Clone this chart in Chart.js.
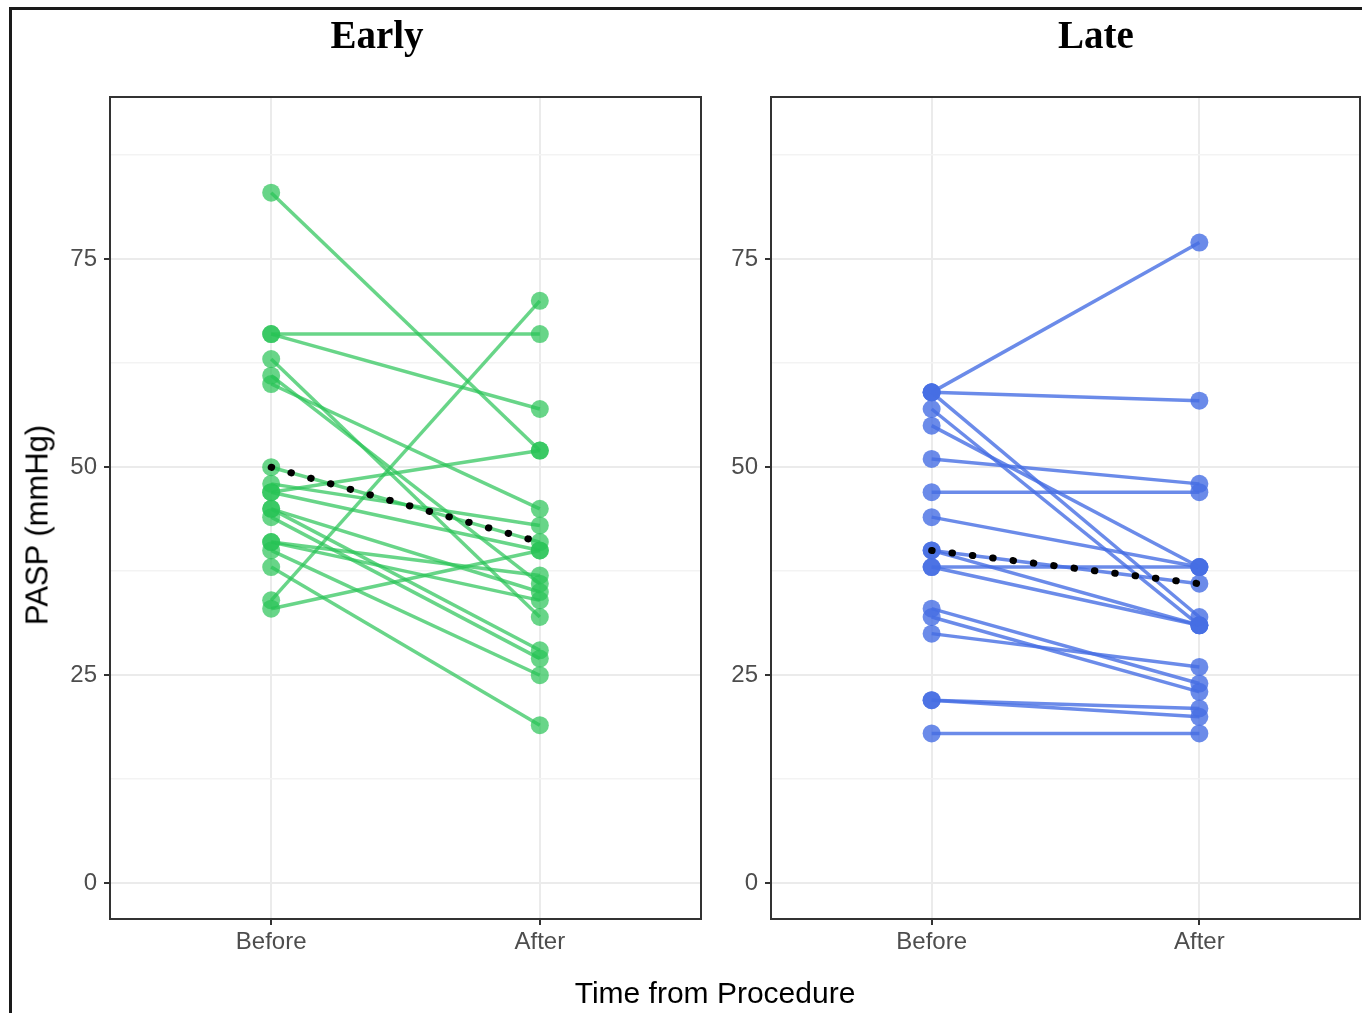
<!DOCTYPE html>
<html>
<head>
<meta charset="utf-8">
<title>PASP before and after procedure</title>
<script src="https://cdn.jsdelivr.net/npm/chart.js@4.4.1/dist/chart.umd.min.js"></script>
<style>
  html, body {
    margin: 0;
    width: 1362px;
    height: 1013px;
    overflow: hidden;
    background: #fff;
  }
  body {
    position: relative;
    font-family: 'Liberation Sans', Arial, sans-serif;
  }
  .frame {
    position: absolute;
    left: 9px;
    top: 7px;
    width: 1350px;
    height: 1003px;
    border-left: 3px solid #1a1a1a;
    border-top: 3px solid #1a1a1a;
  }
  .panel { position: absolute; top: 0; height: 1013px; }
  .title {
    position: absolute;
    top: 15px;
    font-family: 'Liberation Serif', 'Times New Roman', serif;
    font-weight: bold;
    font-size: 39px;
    line-height: 39px;
    transform: translateX(-50%);
    white-space: nowrap;
  }
  .ylab {
    position: absolute;
    left: 37px;
    top: 525px;
    font-size: 31px;
    line-height: 31px;
    white-space: nowrap;
    transform: translate(-50%, -50%) rotate(-90deg);
  }
  .xlab {
    position: absolute;
    left: 715px;
    top: 993px;
    font-size: 30px;
    line-height: 30px;
    white-space: nowrap;
    transform: translate(-50%, -50%);
  }
</style>
</head>
<body>
<div class="frame"></div>
<!-- line charts keep ~9px of room for the point radius, so the right canvas runs past the page edge -->
<div class="panel" style="left:0;width:720px"><canvas id="early-chart"></canvas></div>
<div class="panel" style="left:661px;width:708px"><canvas id="late-chart"></canvas></div>
<div class="title" style="left:377px">Early</div>
<div class="title" style="left:1096px">Late</div>
<div class="ylab">PASP (mmHg)</div>
<div class="xlab">Time from Procedure</div>

<script>
const categories = ['Before', 'After'];

// paired values, one patient per index
const earlyBefore = [83, 66, 66, 63, 61, 60, 50, 48, 47, 47, 45, 45, 44, 41, 41, 40, 38, 34, 33];
const earlyAfter  = [52, 66, 57, 32, 36, 45, 41, 43, 52, 40, 35, 28, 27, 37, 34, 25, 19, 70, 40];
const earlyMean = [50, 41];

const lateBefore = [59, 59, 59, 57, 55, 51, 47, 44, 40, 40, 38, 38, 33, 32, 30, 22, 22, 18];
const lateAfter  = [77, 58, 32, 31, 38, 48, 47, 38, 36, 31, 38, 31, 24, 23, 26, 21, 20, 18];
const lateMean = [40, 36];

const yTicks = [0, 25, 50, 75];
const yMinor = [12.5, 37.5, 62.5, 87.5];

Chart.defaults.font.family = "'Liberation Sans', Arial, sans-serif";

const panelBorder = {
    id: 'panelBorder',
    afterDraw(chart) {
        const { ctx, chartArea: a } = chart;
        ctx.save();
        ctx.strokeStyle = '#333333';
        ctx.lineWidth = 2;
        ctx.strokeRect(a.left, a.top, a.right - a.left, a.bottom - a.top);
        ctx.restore();
    }
};

function renderPanel(canvasId, before, after, mean, color, rightPad) {
    const datasets = [{
        data: mean.map((v, i) => ({ x: i + 1, y: v })),
        borderColor: '#000',
        borderWidth: 7,
        borderDash: [0.5, 20],
        borderCapStyle: 'round',
        pointRadius: 0,
        order: -1
    }];

    before.forEach((b, i) => {
        datasets.push({
            data: [{ x: 1, y: b }, { x: 2, y: after[i] }],
            borderColor: color,
            borderWidth: 3.5,
            pointRadius: 9,
            pointBackgroundColor: color,
            pointBorderWidth: 0
        });
    });

    const ctx = document.getElementById(canvasId).getContext('2d');
    return new Chart(ctx, {
        type: 'line',
        data: { datasets },
        plugins: [panelBorder],
        options: {
            responsive: true,
            maintainAspectRatio: false,
            animation: false,
            layout: { padding: { top: 97, right: rightPad, bottom: 0, left: 0 } },
            plugins: {
                legend: { display: false },
                tooltip: { enabled: false }
            },
            scales: {
                x: {
                    type: 'linear',
                    min: 0.4,
                    max: 2.6,
                    afterBuildTicks: s => { s.ticks = [1, 2].map(v => ({ value: v })); },
                    afterFit: s => { s.height = 94; },
                    border: { display: false },
                    grid: { color: '#ebebeb', lineWidth: 2, tickColor: '#333', tickLength: 6 },
                    ticks: {
                        callback: v => categories[Math.round(v) - 1],
                        color: '#4d4d4d',
                        font: { size: 24 },
                        padding: 3,
                        maxRotation: 0
                    }
                },
                y: {
                    min: -4.3,
                    max: 94.5,
                    afterBuildTicks: s => {
                        s.ticks = [...yTicks, ...yMinor].sort((a, b) => a - b).map(v => ({ value: v }));
                    },
                    afterFit: s => { s.width = 110; },
                    border: { display: false },
                    grid: {
                        color: c => yTicks.includes(c.tick.value) ? '#ebebeb' : '#f3f3f3',
                        lineWidth: c => yTicks.includes(c.tick.value) ? 2 : 1.5,
                        tickColor: c => yTicks.includes(c.tick.value) ? '#333' : 'rgba(0,0,0,0)',
                        tickLength: 6
                    },
                    ticks: {
                        callback: v => yTicks.includes(v) ? String(v) : '',
                        color: '#4d4d4d',
                        font: { size: 24 },
                        padding: 7
                    }
                }
            }
        }
    });
}

renderPanel('early-chart', earlyBefore, earlyAfter, earlyMean, 'rgba(40, 195, 85, 0.7)', 19);
renderPanel('late-chart', lateBefore, lateAfter, lateMean, 'rgba(70, 110, 228, 0.8)', 2);
</script>
</body>
</html>
